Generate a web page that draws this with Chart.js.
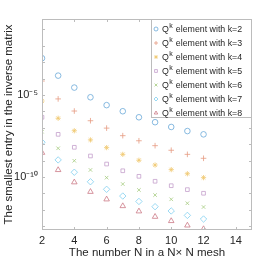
<!DOCTYPE html>
<html>
<head>
<meta charset="utf-8">
<script src="https://cdn.jsdelivr.net/npm/chart.js@4"></script>
<style>
  html, body { margin: 0; padding: 0; background: #fff; }
  #wrap { width: 278px; height: 261px; }
</style>
</head>
<body>
<div id="wrap"><canvas id="meshChart" width="278" height="261"></canvas></div>
<script>
// mesh size N
const meshN = [2, 3, 4, 5, 6, 7, 8, 9, 10, 11, 12];

// smallest entry of the inverse matrix, one list per polynomial degree k
const k2 = [1.74e-3, 1.51e-4, 2.82e-5, 7.24e-6, 2.40e-6, 1.02e-6, 4.37e-7, 2.19e-7, 1.12e-7, 6.31e-8, 3.98e-8];
const k3 = [7.08e-5, 5.75e-6, 1.05e-6, 2.69e-7, 9.55e-8, 3.31e-8, 1.62e-8, 8.13e-9, 4.27e-9, 2.40e-9, 1.38e-9];
const k4 = [4.27e-6, 3.80e-7, 6.61e-8, 1.82e-8, 6.17e-9, 2.40e-9, 1.05e-9, 5.37e-10, 2.82e-10, 1.58e-10, 9.12e-11];
const k5 = [4.37e-7, 3.98e-8, 6.46e-9, 1.91e-9, 6.17e-10, 2.40e-10, 1.10e-10, 5.50e-11, 2.95e-11, 1.70e-11, 1.02e-11];
const k6 = [5.75e-8, 5.62e-9, 9.77e-10, 2.69e-10, 9.12e-11, 3.72e-11, 1.62e-11, 7.94e-12, 4.37e-12, 2.51e-12, 1.48e-12];
const k7 = [1.32e-8, 1.10e-9, 1.95e-10, 5.13e-11, 1.78e-11, 6.92e-12, 3.24e-12, 1.55e-12, 8.51e-13, 4.57e-13, 2.75e-13];
const k8 = [3.02e-9, 2.69e-10, 4.79e-11, 1.26e-11, 4.37e-12, 1.70e-12, 8.13e-13, 3.80e-13, 2.09e-13, 1.12e-13, 6.76e-14];

const seriesNames = ['k=2', 'k=3', 'k=4', 'k=5', 'k=6', 'k=7', 'k=8'];
const seriesValues = [k2, k3, k4, k5, k6, k7, k8];

const xTicks = [2, 4, 6, 8, 10, 12, 14];
const yDecades = [1e-13, 1e-12, 1e-11, 1e-10, 1e-9, 1e-8, 1e-7, 1e-6, 1e-5, 1e-4, 1e-3, 1e-2, 1e-1];
const yLabelled = { '-5': '10\u207B\u2075', '-10': '10\u207B\u00B9\u2070' };

const colors = ['#6aa8d8', '#e69a82', '#f0c86e', '#c4a0cc', '#a6cc80', '#80cff0', '#cc7a86'];
const styles = ['circle', 'cross', 'star', 'rect', 'crossRot', 'rectRot', 'triangle'];
const sizes = [2.8, 2.8, 2.6, 2.6, 2.5, 3.2, 3.2];

const axisGrey = '#bcbcbc';
const textCol = '#262626';
const fontFam = '"Liberation Sans", Arial, sans-serif';

const datasets = seriesValues.map((vals, i) => ({
    label: seriesNames[i],
    data: meshN.map((n, j) => ({ x: n, y: vals[j] })),
    showLine: false,
    pointStyle: styles[i],
    pointRadius: sizes[i],
    pointBorderWidth: 0.8,
    borderColor: colors[i],
    backgroundColor: 'rgba(0,0,0,0)'
}));

// box round the axes with MATLAB-style inward ticks
const boxTicks = {
    id: 'boxTicks',
    afterDraw(chart) {
        const { ctx, chartArea: a, scales } = chart;
        ctx.save();
        ctx.strokeStyle = axisGrey;
        ctx.lineWidth = 1;
        ctx.strokeRect(a.left + 0.5, a.top + 0.5, a.right - a.left - 1, a.bottom - a.top - 1);
        ctx.beginPath();
        xTicks.forEach(t => {
            const px = Math.round(scales.x.getPixelForValue(t)) + 0.5;
            ctx.moveTo(px, a.bottom); ctx.lineTo(px, a.bottom - 3);
            ctx.moveTo(px, a.top); ctx.lineTo(px, a.top + 3);
        });
        yDecades.forEach(t => {
            const py = Math.round(scales.y.getPixelForValue(t)) + 0.5;
            ctx.moveTo(a.left, py); ctx.lineTo(a.left + 3, py);
            ctx.moveTo(a.right, py); ctx.lineTo(a.right - 3, py);
        });
        ctx.stroke();
        ctx.restore();
    }
};

// legend box in the top right corner, Q with superscript k
const cornerLegend = {
    id: 'cornerLegend',
    afterDraw(chart) {
        const { ctx, chartArea: a } = chart;
        const boxL = 151, boxT = a.top, boxR = a.right, boxB = 118;
        ctx.save();
        ctx.fillStyle = '#fff';
        ctx.fillRect(boxL, boxT, boxR - boxL, boxB - boxT);
        ctx.strokeStyle = axisGrey;
        ctx.lineWidth = 1;
        ctx.strokeRect(boxL + 0.5, boxT + 0.5, boxR - boxL - 1, boxB - boxT - 1);
        seriesNames.forEach((name, i) => {
            const y = 29 + i * 14;
            ctx.strokeStyle = colors[i];
            ctx.fillStyle = 'rgba(0,0,0,0)';
            ctx.lineWidth = 0.8;
            Chart.helpers.drawPoint(ctx, { pointStyle: styles[i], radius: 2, borderWidth: 0.8 }, 156, y);
            ctx.fillStyle = textCol;
            ctx.textBaseline = 'middle';
            ctx.font = '8.8px ' + fontFam;
            ctx.fillText('Q', 162, y + 1);
            const qw = ctx.measureText('Q').width;
            ctx.font = '7px ' + fontFam;
            ctx.fillText('k', 162 + qw + 0.5, y - 3);
            ctx.font = '8.8px ' + fontFam;
            ctx.fillText('element with ' + name, 162 + qw + 7, y + 1);
        });
        ctx.restore();
    }
};

const ctx = document.getElementById('meshChart').getContext('2d');
const chart = new Chart(ctx, {
    type: 'scatter',
    data: { datasets: datasets },
    options: {
        responsive: false,
        animation: false,
        events: [],
        layout: { padding: { left: 0, right: 26, top: 19, bottom: 0 } },
        scales: {
            x: {
                type: 'linear',
                min: 2,
                max: 15,
                afterBuildTicks: s => { s.ticks = xTicks.map(v => ({ value: v })); },
                afterFit: s => { s.height = 31; },
                border: { display: false },
                grid: { display: false, drawTicks: false },
                ticks: {
                    color: textCol,
                    padding: 4,
                    font: { family: fontFam, size: 11 },
                    maxRotation: 0
                },
                title: {
                    display: true,
                    text: 'The number N in a N\u00D7 N mesh',
                    color: textCol,
                    padding: { top: 0, bottom: 1 },
                    font: { family: fontFam, size: 11.5 }
                }
            },
            y: {
                type: 'logarithmic',
                min: Math.pow(10, -13.23),
                max: Math.pow(10, -0.37),
                afterBuildTicks: s => { s.ticks = yDecades.map(v => ({ value: v })); },
                afterFit: s => { s.width = 42; },
                border: { display: false },
                grid: { display: false, drawTicks: false },
                ticks: {
                    color: textCol,
                    padding: 4,
                    autoSkip: false,
                    font: { family: fontFam, size: 11 },
                    callback: v => yLabelled[String(Math.round(Math.log10(v)))] || ''
                },
                title: {
                    display: true,
                    text: 'The smallest entry in the inverse matrix',
                    color: textCol,
                    padding: { top: 2, bottom: 0 },
                    font: { family: fontFam, size: 11.5 }
                }
            }
        },
        plugins: {
            legend: { display: false },
            tooltip: { enabled: false },
            title: { display: false }
        }
    },
    plugins: [boxTicks, cornerLegend]
});
</script>
</body>
</html>
